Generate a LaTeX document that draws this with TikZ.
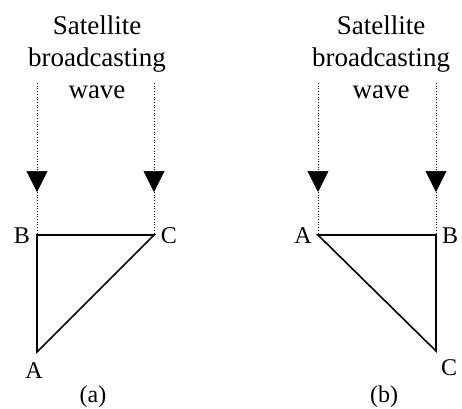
\documentclass[tikz,border=0pt]{standalone}
\usepackage{fontspec}
\setmainfont{Liberation Serif}
\usetikzlibrary{arrows.meta}
\begin{document}
\begin{tikzpicture}[x=1pt,y=-1pt,
    wave/.style={dotted, line width=0.7pt},
    wavehead/.style={wave, -{Triangle[width=21pt,length=21pt]}},
    side/.style={line width=1.6pt, line join=miter},
    lbl/.style={font=\fontsize{24}{28}\selectfont, inner sep=0pt},
    title/.style={font=\fontsize{27}{32}\selectfont, align=center, inner sep=0pt}]
    \useasboundingbox (0,0) rectangle (462,408);
    % (a)
    \coordinate (aA) at (37,352);
    \coordinate (aB) at (37,235);
    \coordinate (aC) at (154,235);
    \coordinate (aBt) at (37,83);
    \coordinate (aCt) at (154,83);
    \coordinate (aBh) at (37,192);
    \coordinate (aCh) at (154,192);
    \draw [wavehead] (aBt) -- (aBh);
    \draw [wave] (aBh) -- (aB);
    \draw [wavehead] (aCt) -- (aCh);
    \draw [wave] (aCh) -- (aC);
    \draw [side] (aA) -- (aB) -- (aC) -- cycle;
    \node [title] (aT) at (97,57) {Satellite\\broadcasting\\wave};
    \node [lbl] (aBl) at (22,236) {B};
    \node [lbl] (aCl) at (169,236) {C};
    \node [lbl] (aAl) at (34,371) {A};
    \node [lbl] (aCap) at (93,397) {(a)};
    % (b)
    \coordinate (bA) at (318,235);
    \coordinate (bB) at (436,235);
    \coordinate (bC) at (436,351);
    \coordinate (bAt) at (318,83);
    \coordinate (bBt) at (436,83);
    \coordinate (bAh) at (318,192);
    \coordinate (bBh) at (436,192);
    \draw [wavehead] (bAt) -- (bAh);
    \draw [wave] (bAh) -- (bA);
    \draw [wavehead] (bBt) -- (bBh);
    \draw [wave] (bBh) -- (bB);
    \draw [side] (bA) -- (bB) -- (bC) -- cycle;
    \node [title] (bT) at (381,57) {Satellite\\broadcasting\\wave};
    \node [lbl] (bAl) at (303,236) {A};
    \node [lbl] (bBl) at (450,236) {B};
    \node [lbl] (bCl) at (449,368) {C};
    \node [lbl] (bCap) at (384,397) {(b)};
\end{tikzpicture}
\end{document}
